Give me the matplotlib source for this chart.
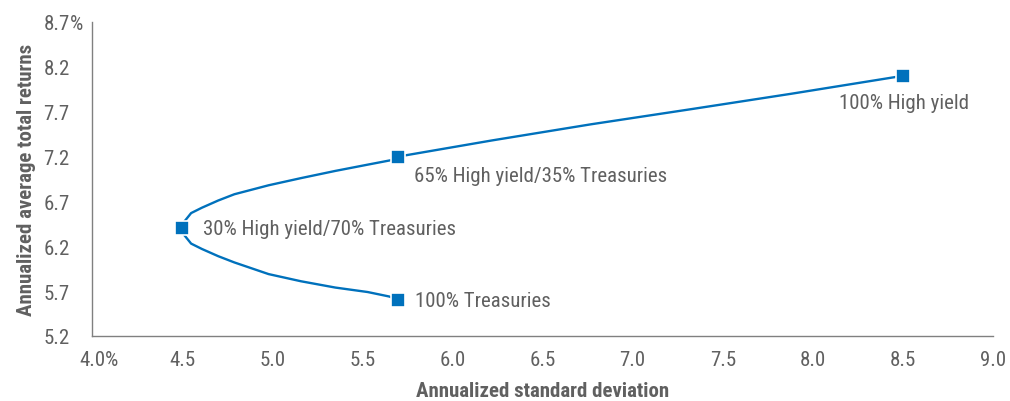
import matplotlib
matplotlib.use('Agg')
import matplotlib.pyplot as plt
from matplotlib import font_manager

# pick a condensed font if there is one
names = set(f.name for f in font_manager.fontManager.ttflist)
family = 'Roboto'
for cand in ['Roboto Condensed', 'Archivo Narrow', 'Barlow Semi Condensed']:
    if cand in names:
        family = cand
        break
plt.rcParams['font.family'] = [family, 'DejaVu Sans']

# portfolio points (std dev, return)
labels = ['100% Treasuries', '30% High yield/70% Treasuries',
          '65% High yield/35% Treasuries', '100% High yield']
point_sd = [5.7, 4.5, 5.7, 8.5]
point_ret = [5.6, 6.4, 7.2, 8.1]

# frontier curve, from 100% Treasuries to 100% High yield
curve_sd = [5.70, 5.65, 5.53, 5.35, 5.16, 4.98, 4.79, 4.70, 4.61, 4.55, 4.53, 4.51, 4.50,
            4.51, 4.53, 4.55, 4.61, 4.70, 4.79, 4.98, 5.16, 5.35, 5.53, 5.66, 5.70,
            6.22, 6.77, 7.33, 7.88, 8.50]
curve_ret = [5.60, 5.64, 5.69, 5.74, 5.81, 5.89, 6.02, 6.09, 6.17, 6.23, 6.28, 6.33, 6.40,
             6.47, 6.52, 6.57, 6.63, 6.71, 6.78, 6.88, 6.96, 7.04, 7.11, 7.16, 7.20,
             7.38, 7.56, 7.73, 7.90, 8.10]

x_ticks = [4.0, 4.5, 5.0, 5.5, 6.0, 6.5, 7.0, 7.5, 8.0, 8.5, 9.0]
y_ticks = [5.2, 5.7, 6.2, 6.7, 7.2, 7.7, 8.2, 8.7]

blue = '#0071bc'
grey = '#606060'

fig = plt.figure(figsize=(10.1, 4.02), dpi=100)
ax = fig.add_axes([92/1010, 1 - 337/402, 901/1010, 314/402])

ax.plot(curve_sd, curve_ret, color=blue, linewidth=1.7, solid_joinstyle='round',
        solid_capstyle='round', zorder=2)
ax.plot(point_sd, point_ret, linestyle='none', marker='s', markersize=9.5,
        color=blue, markeredgecolor='white', markeredgewidth=1.2, zorder=3)

# label offsets in pixels (dx, dy)
offsets = [(17, 0), (21, 0), (16, -19), (-64, -27)]
for lab, sx, ry, off in zip(labels, point_sd, point_ret, offsets):
    ax.annotate(lab, (sx, ry), xytext=(off[0] * 0.72, off[1] * 0.72),
                textcoords='offset points', ha='left', va='center',
                fontsize=15, color=grey)

ax.set_xlim(4.0, 9.0)
ax.set_ylim(5.2, 8.7)
ax.set_xticks(x_ticks)
ax.set_yticks(y_ticks)
ax.set_xticklabels(['%.1f' % v for v in x_ticks])
ax.set_yticklabels(['%.1f' % v for v in y_ticks])

ax.tick_params(axis='both', length=0, labelsize=15, labelcolor=grey)
ax.tick_params(axis='x', pad=10)
ax.tick_params(axis='y', pad=35)
for t in ax.get_yticklabels():
    t.set_horizontalalignment('left')

for side in ['top', 'right']:
    ax.spines[side].set_visible(False)
for side in ['left', 'bottom']:
    ax.spines[side].set_color('#808080')
    ax.spines[side].set_linewidth(1.0)

# percent sign after the first label on each axis
ax.annotate('%', (1, 0), xycoords=ax.get_xticklabels()[0], ha='left', va='bottom',
            fontsize=15, color=grey)
ax.annotate('%', (1, 0), xycoords=ax.get_yticklabels()[-1], ha='left', va='bottom',
            fontsize=15, color=grey)

ax.set_xlabel('Annualized standard deviation', fontsize=15, fontweight='bold',
              color=grey)
ax.set_ylabel('Annualized average total returns', fontsize=15, fontweight='bold',
              color=grey)
ax.xaxis.set_label_coords(0.5, -(392 - 337) / 314)
ax.yaxis.set_label_coords(-(92 - 27) / 901, 0.5)
ax.xaxis.label.set_va('center')
ax.yaxis.label.set_va('center')

fig.savefig('out.png', dpi=100)
